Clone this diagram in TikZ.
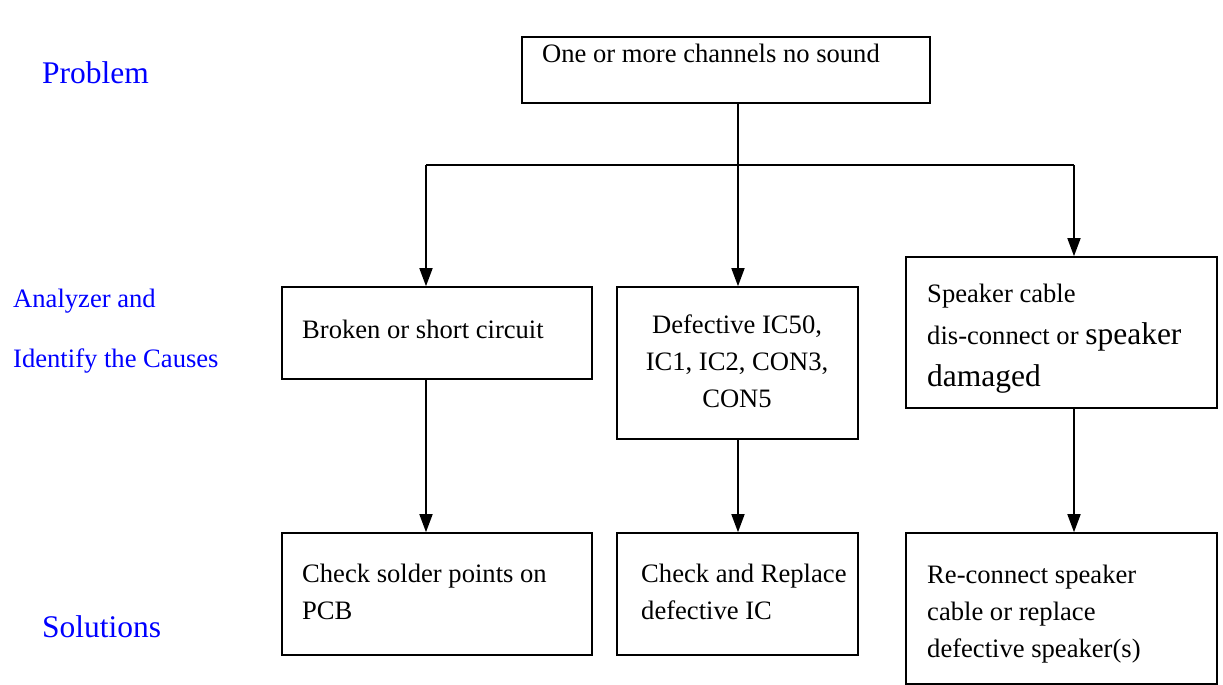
\documentclass[tikz,border=0pt]{standalone}
\usepackage{fontspec}
\setmainfont{Liberation Serif}
\usetikzlibrary{arrows.meta}
\definecolor{stageblue}{RGB}{0,0,255}

\begin{document}
\begin{tikzpicture}[x=1pt,y=-1pt,
    box/.style={draw,line width=1.6pt,inner sep=0pt},
    txt/.style={inner sep=0pt,anchor=base west,align=left,font=\fontsize{26.6}{37}\selectfont},
    big/.style={inner sep=0pt,anchor=base west,text=stageblue,font=\fontsize{31.5}{38}\selectfont},
    line/.style={line width=1.6pt},
    arr/.style={line width=1.6pt,-{Triangle[length=18pt,width=13pt]}}]
  \useasboundingbox (0,0) rectangle (1223,685);
  % stage labels on the left (multi-line texts sit on their last baseline)
  \node[big] (problem) at (42,83) {Problem};
  \node[txt,text=stageblue,font=\fontsize{26.6}{60}\selectfont] (causes) at (13,367) {Analyzer and\\Identify the Causes};
  \node[big] (solutions) at (42,637) {Solutions};
  % boxes
  \node[box,minimum width=408pt,minimum height=66pt] (prob) at (726,70) {};
  \node[box,minimum width=310pt,minimum height=92pt] (broken) at (437,333) {};
  \node[box,minimum width=241pt,minimum height=152pt] (defic) at (737.5,363) {};
  \node[box,minimum width=311pt,minimum height=151pt] (spkr) at (1061.5,332.5) {};
  \node[box,minimum width=310pt,minimum height=122pt] (solder) at (437,594) {};
  \node[box,minimum width=241pt,minimum height=122pt] (replic) at (737.5,594) {};
  \node[box,minimum width=311pt,minimum height=151pt] (recon) at (1061.5,608.5) {};
  % box texts
  \node[txt] (probtxt) at (542,63) {One or more channels no sound};
  \node[txt] (brokentxt) at (302,338) {Broken or short circuit};
  \node[txt,align=center,anchor=base] (defictxt) at (737,407) {Defective IC50,\\IC1, IC2, CON3,\\CON5};
  \node[txt] (spkrtxt) at (927,386) {Speaker cable\\[5pt]dis-connect or {\fontsize{31.5}{43}\selectfont speaker}\\[5pt]{\fontsize{31.5}{43}\selectfont damaged}};
  \node[txt] (soldertxt) at (302,619) {Check solder points on\\PCB};
  \node[txt] (replictxt) at (641,619) {Check and Replace\\defective IC};
  \node[txt] (recontxt) at (927,657) {Re-connect speaker\\cable or replace\\defective speaker(s)};
  % connectors
  \coordinate (split) at (738,165);
  \coordinate (lft) at (426,165);
  \coordinate (rgt) at (1074,165);
  \draw[line] (prob.south -| split) -- (split);
  \draw[line] (lft) -- (rgt);
  \draw[arr] (lft) -- (lft |- broken.north);
  \draw[arr] (split) -- (split |- defic.north);
  \draw[arr] (rgt) -- (rgt |- spkr.north);
  \draw[arr] (lft |- broken.south) -- (lft |- solder.north);
  \draw[arr] (split |- defic.south) -- (split |- replic.north);
  \draw[arr] (rgt |- spkr.south) -- (rgt |- recon.north);
\end{tikzpicture}
\end{document}
